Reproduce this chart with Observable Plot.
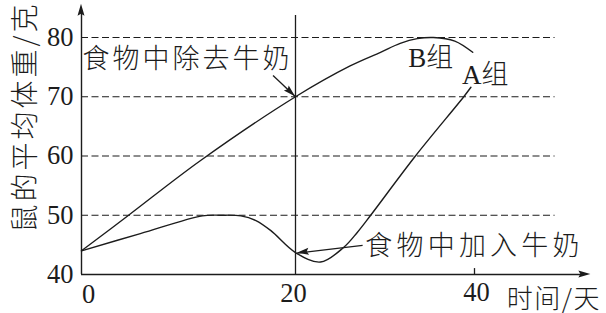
<!DOCTYPE html>
<html>
<head>
<meta charset="utf-8">
<script src="https://cdn.jsdelivr.net/npm/d3@7"></script>
<script src="https://cdn.jsdelivr.net/npm/@observablehq/plot@0.6"></script>
<style>
  html, body { margin: 0; padding: 0; background: #fff; }
  #chart svg { display: block; }
</style>
</head>
<body>
<div id="chart"></div>
<script>
// Average body weight of mice (g) over time (days)
const groupADays    = [0, 5.5, 11.3, 13, 14.9, 16.3, 17.7, 20, 22.8, 25.4, 26.9, 28.4, 33.4, 38.8, 39.6];
const groupAWeights = [44, 46.9, 49.9, 50, 49.9, 49.1, 47.4, 43.7, 42.1, 44.6, 47.1, 50, 60, 70, 71.6];

const groupBDays    = [0, 4.4, 11.1, 20, 26.1, 29.5, 31.7, 33.6, 35.4, 37.8, 39.8];
const groupBWeights = [44, 50, 59.2, 70, 75.2, 77.5, 79, 79.8, 80, 79.4, 77.5];

const xTicks = [0, 20, 40];
const yTicks = [40, 50, 60, 70, 80];
const gridLines = [50, 60, 70, 80];
const milkChangeDay = 20;

// axis extents (with arrowheads)
const xAxisEnd = 53;
const yAxisEnd = 85.6;
const gridEnd = 49;
const dividerTop = 83.7;

// callout arrows: [fromDay, fromWeight, toDay, toWeight]
const arrowFromDay    = [17.9, 27.5];
const arrowFromWeight = [73.6, 44.9];
const arrowToDay      = [20, 20.2];
const arrowToWeight   = [70, 43.6];

const groupA = groupADays.map((d, i) => ({day: d, weight: groupAWeights[i]}));
const groupB = groupBDays.map((d, i) => ({day: d, weight: groupBWeights[i]}));
const arrows = arrowFromDay.map((d, i) => ({x1: d, y1: arrowFromWeight[i], x2: arrowToDay[i], y2: arrowToWeight[i]}));

const ink = "#1c1c1c";
const serif = "'Liberation Serif', 'Noto Sans CJK SC', serif";
const cjk = "'Noto Sans CJK SC', 'Liberation Serif', sans-serif";

const chart = Plot.plot({
  width: 606,
  height: 313,
  x: {type: "linear", domain: [0, 20, 40], range: [81, 295, 474], axis: null},
  y: {type: "linear", domain: [40, 80], range: [274, 37], axis: null},
  style: {background: "#fff", color: ink},
  marks: [
    // dashed reference lines
    Plot.ruleY(gridLines, {y: d => d, x1: 0, x2: gridEnd, stroke: ink, strokeWidth: 1.2, strokeDasharray: "7,3.5"}),
    // divider at day 20
    Plot.ruleX([milkChangeDay], {x: d => d, y1: 40, y2: dividerTop, stroke: ink, strokeWidth: 1.3}),
    // axes
    Plot.ruleX([0], {x: d => d, y1: 40, y2: yAxisEnd - 1.5, stroke: ink, strokeWidth: 1.4}),
    Plot.ruleY([40], {y: d => d, x1: 0, x2: xAxisEnd - 1, stroke: ink, strokeWidth: 1.4}),
    Plot.ruleX([40], {x: d => d, y1: 40, y2: 41, stroke: ink, strokeWidth: 1.3}),
    // curves
    Plot.line(groupB, {x: "day", y: "weight", curve: "catmull-rom", stroke: ink, strokeWidth: 1.4}),
    Plot.line(groupA, {x: "day", y: "weight", curve: "catmull-rom", stroke: ink, strokeWidth: 1.4}),
    // callout arrow shafts
    Plot.link(arrows, {x1: "x1", y1: "y1", x2: "x2", y2: "y2", stroke: ink, strokeWidth: 1.3}),
    // tick labels
    Plot.text(yTicks, {x: 0, y: d => d, text: d => String(d), textAnchor: "end", dx: -8, fontSize: 26.5, fontFamily: serif, fill: ink}),
    Plot.text([xTicks[0]], {x: d => d, y: 40, text: d => String(d), dx: 7, dy: 20, fontSize: 26.5, fontFamily: serif, fill: ink}),
    Plot.text([xTicks[1]], {x: d => d, y: 40, text: d => String(d), dx: -2, dy: 19, fontSize: 26.5, fontFamily: serif, fill: ink}),
    Plot.text([xTicks[2]], {x: d => d, y: 40, text: d => String(d), dx: 2, dy: 18, fontSize: 26.5, fontFamily: serif, fill: ink}),
    // axis titles
    Plot.text(["鼠的平均体重/克"], {x: -5.2, y: 47.1, text: d => d, rotate: -90, textAnchor: "start", fontSize: 28, fontWeight: 300, fontFamily: cjk, fill: ink}),
    Plot.text(["时间/天"], {x: 43.6, y: 35.8, text: d => d, textAnchor: "start", fontSize: 26, fontWeight: 300, fontFamily: cjk, fill: ink}),
    // annotations
    Plot.text(["食物中除去牛奶"], {x: 0.1, y: 76.3, text: d => d, textAnchor: "start", fontSize: 27, fontWeight: 300, fontFamily: cjk, fill: ink}),
    Plot.text(["食物中加入牛奶"], {x: 27.8, y: 44.7, text: d => d, textAnchor: "start", fontSize: 27, fontWeight: 300, fontFamily: cjk, fill: ink}),
    Plot.text(["B组"], {x: 35.1, y: 76.5, text: d => d, fontSize: 27, fontWeight: 300, fontFamily: serif, fill: ink}),
    Plot.text(["A组"], {x: 41.2, y: 73.6, text: d => d, fontSize: 27, fontWeight: 300, fontFamily: serif, fill: ink})
  ]
});

document.getElementById("chart").appendChild(chart);

const svg = d3.select(chart);

// letter spacing for the Chinese labels
const spacing = new Map([
  ["食物中除去牛奶", 3],
  ["食物中加入牛奶", 4.2],
  ["鼠的平均体重/克", 3],
  ["时间/天", 1.5]
]);
svg.selectAll("text").each(function () {
  const s = spacing.get(this.textContent);
  if (s !== undefined) {
    this.setAttribute("letter-spacing", s);
    this.style.letterSpacing = s + "px";
  }
});

// filled arrowheads placed through the chart's own scales
const sx = chart.scale("x");
const sy = chart.scale("y");
function head(fromPx, toPx, len, half) {
  const dx = toPx[0] - fromPx[0], dy = toPx[1] - fromPx[1];
  const n = Math.hypot(dx, dy), ux = dx / n, uy = dy / n;
  const bx = toPx[0] - ux * len, by = toPx[1] - uy * len;
  const pts = [
    [toPx[0], toPx[1]],
    [bx - uy * half, by + ux * half],
    [bx + ux * 2, by + uy * 2],
    [bx + uy * half, by - ux * half]
  ];
  svg.append("path")
    .attr("d", "M" + pts.map(p => p.join(",")).join("L") + "Z")
    .attr("fill", ink);
}
arrows.forEach(a => head([sx.apply(a.x1), sy.apply(a.y1)], [sx.apply(a.x2), sy.apply(a.y2)], 12, 3.5));
head([sx.apply(0), sy.apply(40)], [sx.apply(0), sy.apply(yAxisEnd)], 12, 3.5);
head([sx.apply(0), sy.apply(40)], [sx.apply(xAxisEnd), sy.apply(40)], 12, 3.5);
</script>
</body>
</html>
